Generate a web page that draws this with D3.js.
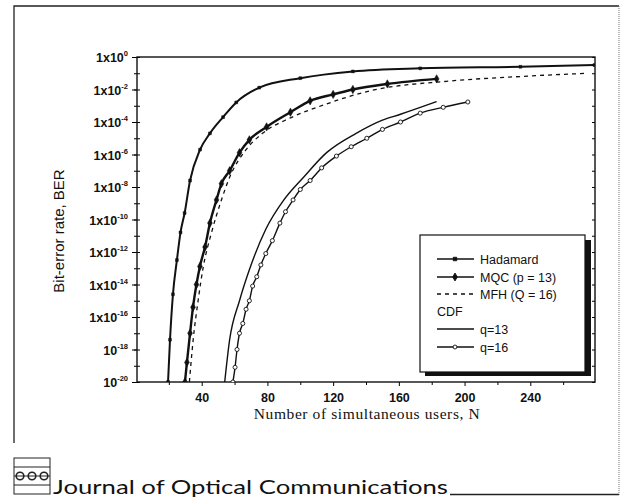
<!DOCTYPE html>
<html lang="en">
<head>
  <meta charset="UTF-8">
  <title>BER vs number of simultaneous users</title>
  <style>
    body { margin: 0; background: #fff; }
    svg text { fill: #111; }
  </style>
</head>
<body>
  <div id="chart"></div>
  <script src="https://d3js.org/d3.v7.min.js"></script>
  <script>
// values (N = users, BER)
const hadamardN   = [19.5, 20.7, 22.5, 24.9, 27.1, 29.6, 32.9, 39, 45, 53, 61, 75, 100, 132, 173, 234, 279]
const hadamardBER = [1e-20, 4e-18, 2.5e-15, 3.2e-13, 1.6e-11, 2.5e-10, 2.5e-8, 2e-6, 2e-5, 2e-4, 1.6e-3, 1.3e-2, 5e-2, 0.13, 0.2, 0.25, 0.32]

const mqcN   = [29.8, 31, 32.9, 34.7, 36.8, 38.9, 42, 45, 49, 52, 57, 63, 69, 79.5, 94, 106, 120, 132, 153, 183]
const mqcBER = [1e-20, 1.6e-19, 1e-17, 4e-16, 1e-14, 1.3e-13, 2e-12, 6e-11, 1.6e-9, 1.6e-8, 1e-7, 1.3e-6, 8e-6, 5e-5, 4e-4, 2e-3, 5e-3, 1e-2, 2.2e-2, 4.5e-2]

const mfhN   = [32.5, 34.8, 37.8, 41, 46, 52, 57, 67, 77, 94, 114, 144, 189, 234, 275]
const mfhBER = [1e-20, 4e-18, 1e-15, 1.3e-13, 1.6e-11, 1.6e-9, 4e-8, 2e-6, 2e-5, 1.8e-4, 1.1e-3, 9e-3, 3.2e-2, 6.3e-2, 0.1]

const q13N   = [54, 57, 63, 69, 79, 90, 102, 116, 134, 150, 161, 183]
const q13BER = [1e-20, 4e-18, 1e-15, 8e-14, 2.5e-11, 1.6e-9, 4e-8, 1.3e-6, 2e-5, 1.3e-4, 3e-4, 1.8e-3]

const q16N   = [59, 60.3, 61.5, 63, 65, 67, 69, 71, 73.5, 76, 79, 83, 87.6, 91, 95.6, 100, 106, 113, 122, 131, 140.5, 150, 161, 173, 187, 202]
const q16BER = [1e-20, 8e-20, 1e-18, 1e-17, 4e-17, 3e-16, 1e-15, 8e-15, 3e-14, 1.6e-13, 8e-13, 5e-12, 6e-11, 3e-10, 1.6e-9, 7e-9, 2.5e-8, 1.5e-7, 8e-7, 3e-6, 1e-5, 3.5e-5, 1e-4, 3.5e-4, 8e-4, 1.7e-3]

const xTickValues = [40, 80, 120, 160, 200, 240]
const xMinorTicks = [20, 60, 100, 140, 180, 220, 260]
const yTickValues = [1, 1e-2, 1e-4, 1e-6, 1e-8, 1e-10, 1e-12, 1e-14, 1e-16, 1e-18, 1e-20]
const yTickBase   = ['1x10', '1x10', '1x10', '1x10', '1x10', '1x10', '1x10', '1x10', '1x10', '10', '10']
const yTickExp    = ['0', '-2', '-4', '-6', '-8', '-10', '-12', '-14', '-16', '-18', '-20']

const legendLabels = ['Hadamard', 'MQC (p = 13)', 'MFH (Q = 16)', 'CDF', 'q=13', 'q=16']

const W = 622, H = 500
const plot = {left: 137, right: 595, top: 57, bottom: 382}

const svg = d3.select('#chart').append('svg')
  .attr('width', W)
  .attr('height', H)
  .style('font-family', 'Liberation Sans, Arial, sans-serif')

// outer page frame
svg.append('path')
  .attr('d', 'M14,443 L14,6 L619,6')
  .attr('fill', 'none').attr('stroke', '#222').attr('stroke-width', 1.3)
svg.append('line')
  .attr('x1', 619).attr('x2', 619).attr('y1', 6).attr('y2', 495)
  .attr('stroke', '#777').attr('stroke-width', 1).attr('stroke-dasharray', '1,1')

const x = d3.scaleLinear().domain([0, 280]).range([plot.left - 1, plot.right + 1])
const y = d3.scaleLog().domain([1e-20, 1]).range([plot.bottom, plot.top])

// axes
const xAxis = d3.axisBottom(x).tickValues(xTickValues).tickSize(4).tickSizeOuter(0)
svg.append('g')
  .attr('transform', `translate(0,${plot.bottom})`)
  .call(xAxis)
  .call(g => g.select('.domain').remove())
  .call(g => g.selectAll('text').attr('font-size', 12.5).attr('font-weight', 'bold').attr('dy', '1.0em'))
svg.append('g')
  .attr('transform', `translate(0,${plot.bottom})`)
  .call(d3.axisBottom(x).tickValues(xMinorTicks).tickSize(3).tickFormat(''))
  .call(g => g.select('.domain').remove())

const decades = d3.range(-20, 1).map(k => Math.pow(10, k))
svg.append('g')
  .attr('transform', `translate(${plot.left},0)`)
  .call(d3.axisLeft(y).tickValues(decades).tickSize(3).tickFormat(''))
  .call(g => g.select('.domain').remove())
svg.append('g')
  .attr('transform', `translate(${plot.left},0)`)
  .call(d3.axisRight(y).tickValues(decades).tickSize(3).tickFormat(''))
  .call(g => g.select('.domain').remove())

const yAxis = d3.axisLeft(y).tickValues(yTickValues).tickSize(5).tickFormat('')
const yg = svg.append('g')
  .attr('transform', `translate(${plot.left},0)`)
  .call(yAxis)
yg.select('.domain').remove()
yg.selectAll('.tick').each(function(d, i) {
  const t = d3.select(this).append('text')
    .attr('x', -9).attr('y', 4.5)
    .attr('text-anchor', 'end')
    .attr('font-size', 12.5)
    .attr('font-weight', 'bold')
    .attr('fill', '#111')
  t.append('tspan').text(yTickBase[i])
  t.append('tspan').attr('dy', -6).attr('font-size', 7.5).text(yTickExp[i])
})

// right side minor ticks
svg.append('g')
  .attr('transform', `translate(${plot.right},0)`)
  .call(d3.axisLeft(y).tickValues(decades).tickSize(3).tickFormat(''))
  .call(g => g.select('.domain').remove())

// plot frame
svg.append('rect')
  .attr('x', plot.left).attr('y', plot.top)
  .attr('width', plot.right - plot.left).attr('height', plot.bottom - plot.top)
  .attr('fill', 'none').attr('stroke', '#111').attr('stroke-width', 1.4)

// axis titles
svg.append('text')
  .attr('transform', 'translate(64,231) rotate(-90)')
  .attr('text-anchor', 'middle')
  .attr('font-size', 15)
  .text('Bit-error rate, BER')

svg.append('text')
  .attr('x', 367).attr('y', 419)
  .attr('text-anchor', 'middle')
  .attr('font-family', 'Liberation Serif, Times New Roman, serif')
  .attr('font-size', 15.5)
  .attr('letter-spacing', 0.6)
  .text('Number of simultaneous users, N')

// curves
svg.append('clipPath').attr('id', 'clip')
  .append('rect')
  .attr('x', plot.left).attr('y', plot.top)
  .attr('width', plot.right - plot.left).attr('height', plot.bottom - plot.top)

const plotG = svg.append('g').attr('clip-path', 'url(#clip)')
const line = d3.line().x(d => x(d[0])).y(d => y(d[1])).curve(d3.curveMonotoneX)
const zip = (a, b) => a.map((v, i) => [v, b[i]])

const series = [
  {pts: zip(hadamardN, hadamardBER), width: 2, dash: null, marker: 'square'},
  {pts: zip(mqcN, mqcBER), width: 2.4, dash: null, marker: 'diamond'},
  {pts: zip(mfhN, mfhBER), width: 1.3, dash: '4,4', marker: null},
  {pts: zip(q13N, q13BER), width: 1.4, dash: null, marker: null},
  {pts: zip(q16N, q16BER), width: 1.4, dash: null, marker: 'circle'}
]

const symOf = m => m === 'square' ? d3.symbolSquare : m === 'diamond' ? d3.symbolDiamond : d3.symbolCircle

series.forEach(s => {
  plotG.append('path')
    .datum(s.pts)
    .attr('d', line)
    .attr('fill', 'none')
    .attr('stroke', '#111')
    .attr('stroke-width', s.width)
    .attr('stroke-dasharray', s.dash)
  if (s.marker) {
    const size = s.marker === 'square' ? 8 : s.marker === 'diamond' ? 20 : 13
    plotG.append('g').selectAll('path')
      .data(s.pts)
      .enter()
      .append('path')
      .attr('transform', d => `translate(${x(d[0])},${y(d[1])})`)
      .attr('d', d3.symbol().type(symOf(s.marker)).size(size))
      .attr('fill', s.marker === 'circle' ? '#fff' : '#111')
      .attr('stroke', '#111')
      .attr('stroke-width', s.marker === 'circle' ? 0.9 : 0.5)
  }
})

// legend
const lg = svg.append('g')
lg.append('rect').attr('x', 425).attr('y', 240).attr('width', 166).attr('height', 136).attr('fill', '#111')
lg.append('rect').attr('x', 420).attr('y', 235).attr('width', 165).attr('height', 137)
  .attr('fill', '#fff').attr('stroke', '#111').attr('stroke-width', 1.2)

const legY = [259, 277, 294, 311, 329, 347]
const legStyle = [series[0], series[1], series[2], null, series[3], series[4]]
legendLabels.forEach((lab, i) => {
  const s = legStyle[i]
  if (s) {
    lg.append('line')
      .attr('x1', 437).attr('x2', 474).attr('y1', legY[i]).attr('y2', legY[i])
      .attr('stroke', '#111').attr('stroke-width', Math.min(s.width, 1.5))
      .attr('stroke-dasharray', s.dash)
    if (s.marker) {
      lg.append('path')
        .attr('transform', `translate(455,${legY[i]})`)
        .attr('d', d3.symbol().type(symOf(s.marker)).size(s.marker === 'diamond' ? 18 : 12))
        .attr('fill', s.marker === 'circle' ? '#fff' : '#111')
        .attr('stroke', '#111').attr('stroke-width', 0.9)
    }
  }
  lg.append('text')
    .attr('x', s ? 480 : 437).attr('y', legY[i] + 4.5)
    .attr('font-size', 12.5)
    .text(lab)
})

// journal footer
const logo = svg.append('g')
logo.append('rect').attr('x', 14).attr('y', 458).attr('width', 36).attr('height', 36)
  .attr('fill', 'none').attr('stroke', '#222').attr('stroke-width', 1)
logo.append('line').attr('x1', 14).attr('x2', 50).attr('y1', 467).attr('y2', 467).attr('stroke', '#222')
logo.append('line').attr('x1', 14).attr('x2', 50).attr('y1', 485).attr('y2', 485).attr('stroke', '#222')
;[20, 32, 44].forEach(cx => {
  logo.append('circle').attr('cx', cx).attr('cy', 476).attr('r', 3.8)
    .attr('fill', 'none').attr('stroke', '#222').attr('stroke-width', 1.6)
})
logo.append('line').attr('x1', 14).attr('x2', 50).attr('y1', 476).attr('y2', 476).attr('stroke', '#222').attr('stroke-width', 1.2)

svg.append('text')
  .attr('x', 53).attr('y', 494)
  .attr('font-family', 'Lato, Open Sans, sans-serif')
  .attr('font-size', 20)
  .attr('textLength', 395)
  .attr('lengthAdjust', 'spacingAndGlyphs')
  .text('Journal of Optical Communications')
svg.append('line')
  .attr('x1', 450).attr('x2', 619).attr('y1', 494.5).attr('y2', 494.5)
  .attr('stroke', '#222').attr('stroke-width', 1.3)
  </script>
</body>
</html>
